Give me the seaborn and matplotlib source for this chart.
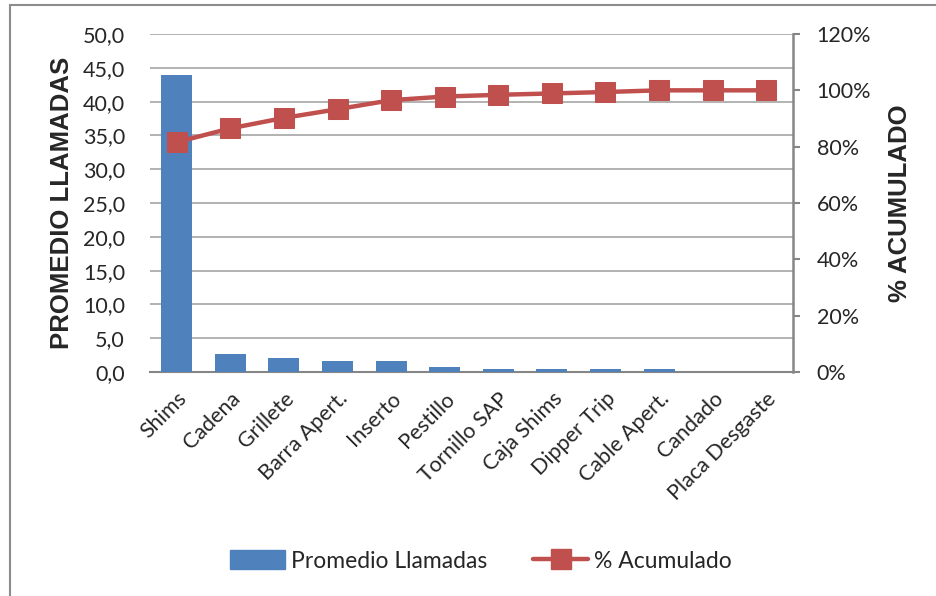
import numpy as np
import pandas as pd
import matplotlib
matplotlib.use("Agg")
import matplotlib.pyplot as plt
from matplotlib.patches import Rectangle
from matplotlib.lines import Line2D
from matplotlib.patches import Patch
import seaborn as sns

categorias = ["Shims", "Cadena", "Grillete", "Barra Apert.", "Inserto", "Pestillo",
              "Tornillo SAP", "Caja Shims", "Dipper Trip", "Cable Apert.", "Candado",
              "Placa Desgaste"]
promedio_llamadas = [44.0, 2.7, 2.0, 1.7, 1.7, 0.7, 0.4, 0.4, 0.4, 0.4, 0.0, 0.0]
pct_acumulado = [81.6, 86.5, 90.2, 93.3, 96.5, 97.8, 98.4, 98.9, 99.4, 100.0, 100.0, 100.0]
ticks_izq = [0, 5, 10, 15, 20, 25, 30, 35, 40, 45, 50]
ticks_der = [0, 20, 40, 60, 80, 100, 120]

sns.set_theme(style="white")
plt.rcParams["font.family"] = ["Lato", "DejaVu Sans"]

AZUL = "#4F81BD"
ROJO = "#C0504D"
GRIS = "#868686"

fig = plt.figure(figsize=(9.36, 5.96), dpi=100)
fig.patch.set_facecolor("white")

# chart frame (its right and bottom edges fall outside the canvas)
fig.patches.append(Rectangle((10 / 936, -0.05), 1.1, 1 - 5 / 596 + 0.05,
                             transform=fig.transFigure, fill=False,
                             edgecolor="#8C8C8C", linewidth=1.5))

ax = fig.add_axes([150 / 936, 224 / 596, 643 / 936, 338 / 596])
df = pd.DataFrame({"categoria": categorias, "valor": promedio_llamadas})
sns.barplot(data=df, x="categoria", y="valor", order=categorias, color=AZUL,
            saturation=1, width=0.58, linewidth=0, ax=ax, zorder=3)
ax.set_xlim(-0.5, len(categorias) - 0.5)
ax.set_ylim(0, 50)
ax.set_yticks(ticks_izq)
ax.set_yticklabels([f"{v:.1f}".replace(".", ",") for v in ticks_izq], fontsize=15.5)
ax.yaxis.grid(True, color="#A6A6A6", linewidth=1.2, zorder=0)
ax.set_axisbelow(True)
ax.set_xticks(range(len(categorias)))
ax.set_xticklabels(categorias, rotation=45, ha="right", rotation_mode="anchor",
                   fontsize=15.5)
ax.tick_params(axis="x", length=0, pad=12)
ax.tick_params(axis="y", length=0, pad=18)
for s in ["top", "left", "right"]:
    ax.spines[s].set_visible(False)
ax.spines["bottom"].set_color(GRIS)
ax.spines["bottom"].set_linewidth(1.5)
ax.spines["bottom"].set_zorder(2)
ax.set_xlabel("")
ax.set_ylabel("PROMEDIO LLAMADAS", fontsize=18.5, fontweight="bold",
              family=["Liberation Sans", "DejaVu Sans"], labelpad=6)

ax2 = ax.twinx()
sns.lineplot(x=np.arange(len(categorias)), y=pct_acumulado, ax=ax2, color=ROJO,
             linewidth=3.2, marker="s", markersize=14, markeredgecolor=ROJO,
             markerfacecolor=ROJO, zorder=3)
ax2.set_ylim(0, 120)
ax2.set_yticks(ticks_der)
ax2.set_yticklabels([f"{v}%" for v in ticks_der], fontsize=15.5)
ax2.tick_params(axis="y", length=5, width=1.5, color=GRIS, pad=12)
for s in ["top", "left", "bottom"]:
    ax2.spines[s].set_visible(False)
ax2.spines["right"].set_color(GRIS)
ax2.spines["right"].set_linewidth(1.8)
ax2.set_ylabel("% ACUMULADO", fontsize=18.5, fontweight="bold",
               family=["Liberation Sans", "DejaVu Sans"], labelpad=12)

handles = [Patch(facecolor=AZUL, edgecolor=AZUL),
           Line2D([0], [0], color=ROJO, linewidth=3.2, marker="s", markersize=14)]
fig.legend(handles, ["Promedio Llamadas", "% Acumulado"], loc="center",
           bbox_to_anchor=(481 / 936, 1 - 561 / 596), ncol=2, frameon=False,
           fontsize=16.5, handlelength=2.4, handleheight=0.9, columnspacing=2.0,
           handletextpad=0.25)

fig.savefig("out.png", dpi=100, facecolor="white")
